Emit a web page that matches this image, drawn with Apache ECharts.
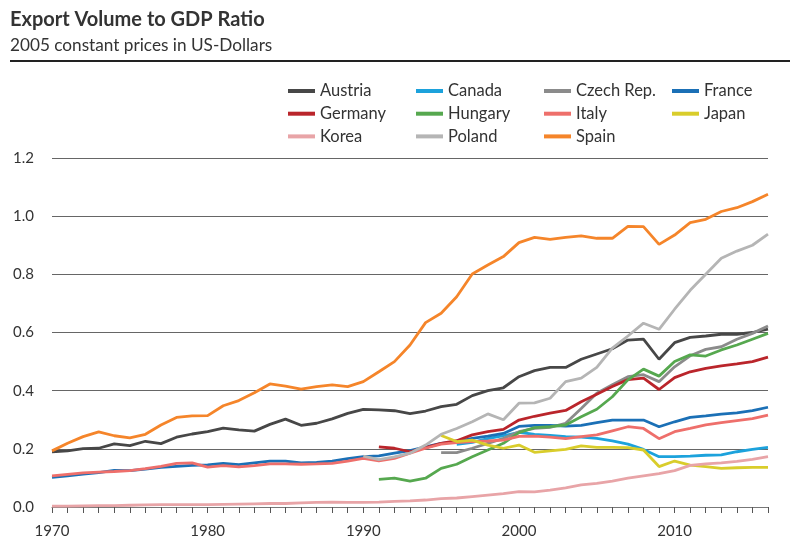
<!DOCTYPE html>
<html>
<head>
<meta charset="utf-8">
<script src="https://cdn.jsdelivr.net/npm/echarts@6/dist/echarts.min.js"></script>
<style>
html,body{margin:0;padding:0;background:#fff;}
#chart{width:798px;height:540px;}
</style>
</head>
<body>
<div id="chart"></div>
<script>
const years = [];
for (let y = 1970; y <= 2016; y++) years.push(String(y));
const yTicks = [0, 0.2, 0.4, 0.6, 0.8, 1.0, 1.2];

const austria = [0.190,0.193,0.201,0.202,0.217,0.211,0.226,0.218,0.240,0.251,
  0.259,0.271,0.265,0.261,0.284,0.302,0.281,0.288,0.303,0.322,
  0.336,0.334,0.331,0.321,0.330,0.345,0.353,0.383,0.400,0.410,
  0.448,0.469,0.480,0.480,0.508,0.526,0.544,0.574,0.577,0.508,
  0.565,0.583,0.588,0.594,0.594,0.600,0.612];
const austriaStart = 1970;
const canada = [0.215,0.222,0.235,0.245,0.257,0.250,0.246,0.242,0.240,0.236,
  0.227,0.216,0.198,0.173,0.173,0.175,0.178,0.179,0.190,0.198,0.205];
const canadaStart = 1996;
const czech = [0.187,0.187,0.202,0.219,0.236,0.259,0.270,0.274,0.288,0.339,
  0.391,0.420,0.448,0.455,0.431,0.482,0.520,0.542,0.551,0.577,0.597,0.622];
const czechStart = 1995;
const france = [0.102,0.107,0.113,0.118,0.126,0.125,0.130,0.136,0.140,0.143,
  0.145,0.150,0.146,0.152,0.158,0.158,0.152,0.153,0.158,0.166,
  0.173,0.176,0.185,0.194,0.207,0.219,0.225,0.236,0.244,0.253,
  0.277,0.281,0.281,0.278,0.281,0.290,0.299,0.299,0.299,0.276,
  0.293,0.308,0.313,0.319,0.324,0.331,0.343];
const franceStart = 1970;
const germany = [0.207,0.202,0.190,0.204,0.219,0.228,0.248,0.259,0.267,0.299,
  0.312,0.323,0.332,0.362,0.388,0.414,0.438,0.443,0.404,0.445,
  0.465,0.477,0.485,0.492,0.500,0.515];
const germanyStart = 1991;
const hungary = [0.095,0.099,0.089,0.099,0.133,0.147,0.173,0.196,0.219,0.256,
  0.273,0.276,0.282,0.310,0.336,0.379,0.437,0.474,0.450,0.500,
  0.523,0.519,0.540,0.557,0.577,0.597];
const hungaryStart = 1991;
const italy = [0.107,0.112,0.117,0.120,0.122,0.125,0.132,0.140,0.150,0.152,
  0.137,0.142,0.138,0.142,0.148,0.148,0.147,0.148,0.150,0.158,
  0.167,0.159,0.167,0.185,0.202,0.216,0.221,0.225,0.227,0.230,
  0.243,0.244,0.240,0.235,0.242,0.248,0.262,0.276,0.270,0.235,
  0.259,0.270,0.282,0.290,0.297,0.304,0.316];
const italyStart = 1970;
const japan = [0.246,0.225,0.230,0.213,0.202,0.213,0.188,0.193,0.198,0.210,
  0.205,0.205,0.204,0.196,0.139,0.158,0.144,0.139,0.133,0.135,0.136,0.136];
const japanStart = 1995;
const korea = [0.003,0.003,0.004,0.005,0.005,0.006,0.007,0.008,0.008,0.008,
  0.008,0.009,0.010,0.011,0.012,0.012,0.014,0.016,0.017,0.016,
  0.016,0.017,0.019,0.021,0.024,0.029,0.031,0.036,0.041,0.046,
  0.053,0.052,0.058,0.066,0.076,0.081,0.089,0.099,0.107,0.115,
  0.125,0.143,0.148,0.152,0.157,0.164,0.173];
const koreaStart = 1970;
const poland = [0.175,0.163,0.172,0.185,0.213,0.250,0.270,0.293,0.320,0.300,
  0.357,0.358,0.374,0.431,0.443,0.480,0.546,0.588,0.632,0.611,
  0.680,0.745,0.800,0.855,0.880,0.900,0.938];
const polandStart = 1990;
const spain = [0.193,0.219,0.242,0.258,0.245,0.238,0.250,0.282,0.308,0.313,
  0.314,0.348,0.366,0.393,0.423,0.416,0.405,0.414,0.420,0.414,
  0.431,0.465,0.500,0.557,0.634,0.666,0.723,0.801,0.832,0.861,
  0.909,0.927,0.920,0.927,0.932,0.924,0.924,0.965,0.964,0.903,
  0.935,0.978,0.989,1.016,1.029,1.050,1.075];
const spainStart = 1970;

const FONT = 'Lato';
const countries = [
  {name:'Austria', values:austria, start:austriaStart, color:'#474747'},
  {name:'Canada', values:canada, start:canadaStart, color:'#1ca2dc'},
  {name:'Czech Rep.', values:czech, start:czechStart, color:'#8b8b8b'},
  {name:'France', values:france, start:franceStart, color:'#1b70b6'},
  {name:'Germany', values:germany, start:germanyStart, color:'#ba252b'},
  {name:'Hungary', values:hungary, start:hungaryStart, color:'#56a84f'},
  {name:'Italy', values:italy, start:italyStart, color:'#ee6f6b'},
  {name:'Japan', values:japan, start:japanStart, color:'#d9cd2b'},
  {name:'Korea', values:korea, start:koreaStart, color:'#e8a4a7'},
  {name:'Poland', values:poland, start:polandStart, color:'#b5b5b5'},
  {name:'Spain', values:spain, start:spainStart, color:'#f5852a'}
];

function pad(c) {
  const out = [];
  for (let i = 0; i < years.length; i++) {
    const yr = 1970 + i;
    const k = yr - c.start;
    out.push(k >= 0 && k < c.values.length ? c.values[k] : null);
  }
  return out;
}

const series = countries.map(c => ({
  name: c.name, type: 'line', data: pad(c), showSymbol: false, symbol: 'none',
  connectNulls: false, animation: false,
  lineStyle: {color: c.color, width: 2.8}, itemStyle: {color: c.color}
}));

const cols = [
  {left: 288, names: ['Austria','Germany','Korea']},
  {left: 416, names: ['Canada','Hungary','Poland']},
  {left: 544, names: ['Czech Rep.','Italy','Spain']},
  {left: 672, names: ['France','Japan']}
];
const legends = cols.map(c => ({
  data: c.names, orient: 'vertical', left: c.left, top: 82, padding: 0,
  itemWidth: 27, itemHeight: 4, icon: 'rect', itemGap: 4.7,
  textStyle: {fontFamily: FONT, fontSize: 16.5, color: '#333', lineHeight: 18},
  selectedMode: false
}));

const chart = echarts.init(document.getElementById('chart'), null, {renderer: 'canvas'});
chart.setOption({
  animation: false,
  backgroundColor: '#fff',
  title: [
    {text: 'Export Volume to GDP Ratio', left: 5, top: 5,
     textStyle: {fontFamily: FONT, fontWeight: 'bold', fontSize: 20, color: '#333'}},
    {text: '2005 constant prices in US-Dollars', left: 5, top: 32,
     textStyle: {fontFamily: FONT, fontWeight: 'normal', fontSize: 17.2, color: '#333'}}
  ],
  graphic: [{type: 'line', shape: {x1: 10, y1: 61, x2: 790, y2: 61}, style: {stroke: '#222', lineWidth: 2}}],
  legend: legends,
  grid: {left: 52, right: 30, top: 158, bottom: 33, containLabel: false},
  xAxis: {
    type: 'category', data: years, boundaryGap: false,
    axisLine: {lineStyle: {color: '#777', width: 1}},
    axisTick: {show: true, interval: 0, length: 6, lineStyle: {color: '#555'}},
    axisLabel: {interval: 0, margin: 17, fontFamily: FONT, fontSize: 15, color: '#333',
      formatter: v => (Number(v) % 10 === 0 ? v : '')},
    splitLine: {show: false}
  },
  yAxis: {
    type: 'value', min: 0, max: 1.2, interval: 0.2,
    axisLine: {show: false}, axisTick: {show: false},
    axisLabel: {margin: 18, fontFamily: FONT, fontSize: 15, color: '#333',
      formatter: v => v.toFixed(1)},
    splitLine: {lineStyle: {color: '#666', width: 1}}
  },
  series: series
});
</script>
</body>
</html>
